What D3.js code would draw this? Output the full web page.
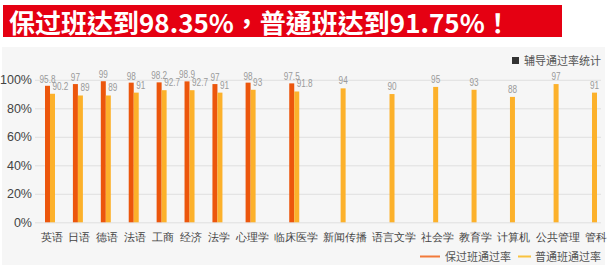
<!DOCTYPE html>
<html>
<head>
<meta charset="utf-8">
<script src="https://cdn.jsdelivr.net/npm/d3@7"></script>
<style>
  body { margin: 0; background: #fff; }
  svg { display: block; font-family: "Noto Sans CJK SC", "Liberation Sans", Arial, sans-serif; }
</style>
</head>
<body>
<svg width="608" height="269"></svg>
<script>
// chart data
var titleText = "保过班达到98.35%，普通班达到91.75%！";
var categories = ["英语", "日语", "德语", "法语", "工商", "经济", "法学", "心理学", "临床医学",
                  "新闻传播", "语言文学", "社会学", "教育学", "计算机", "公共管理", "管科"];
var baoguo = [95.8, 97, 99, 98, 98.2, 98.9, 97, 98, 97.5, null, null, null, null, null, null, null];
var putong = [90.2, 89, 89, 91, 92.7, 92.7, 91, 93, 91.8, 94, 90, 95, 93, 88, 97, 91];
var yTicks = [0, 20, 40, 60, 80, 100];
var seriesNames = ["保过班通过率", "普通班通过率"];
var topLegend = "辅导通过率统计";

var orange = "#ec560c", yellow = "#fcb12b";

var svg = d3.select("svg");

// title banner
svg.append("rect").attr("x", 3).attr("y", 5).attr("width", 559).attr("height", 32).attr("fill", "#e50012");
svg.append("text")
    .attr("x", 9).attr("y", 33)
    .attr("fill", "#fff")
    .style("font-family", "'Noto Sans CJK TC', 'Noto Sans CJK SC', sans-serif")
    .style("font-size", "26px").style("font-weight", "bold")
    .text(titleText);

// chart panel
svg.append("rect").attr("x", 2).attr("y", 47).attr("width", 603).attr("height", 218).attr("fill", "#f6f6f6");

// categories are spaced by how long their labels are
var slots = [], acc = 0;
categories.forEach(function(c, i) {
    if (i > 0) acc += (categories[i - 1].length + c.length) / 2 + 0.66;
    slots.push(acc);
});
var x = d3.scaleLinear().domain([0, acc]).range([50, 594.5]);
var y = d3.scaleLinear().domain([0, 100]).range([222.3, 79.8]);

// y axis + grid
var yAxis = svg.append("g")
    .attr("transform", "translate(35,0)")
    .call(d3.axisLeft(y).tickValues(yTicks).tickFormat(function(d) { return d + "%"; }).tickSize(-566).tickPadding(3));
yAxis.select(".domain").remove();
yAxis.selectAll("line").attr("stroke", "#e0e0e0");
yAxis.selectAll("text")
    .attr("fill", "#444")
    .style("font-family", "'Liberation Sans', Arial, sans-serif")
    .style("font-size", "12.5px");

// x axis labels
var xAxis = svg.append("g")
    .attr("transform", "translate(1,222.3)")
    .call(d3.axisBottom(x).tickValues(slots).tickFormat(function(d, i) { return categories[i]; }).tickSize(0).tickPadding(11));
xAxis.select(".domain").remove();
xAxis.selectAll("text").attr("fill", "#444").style("font-size", "11px");

var bw = 5;
var rows = categories.map(function(c, i) {
    return { c: c, s: slots[i], a: baoguo[i], b: putong[i] };
});

// bars
svg.append("g").selectAll("rect")
    .data(rows.filter(function(d) { return d.a != null; }))
    .join("rect")
    .attr("x", function(d) { return x(d.s) - bw; })
    .attr("y", function(d) { return y(d.a); })
    .attr("width", bw)
    .attr("height", function(d) { return y(0) - y(d.a); })
    .attr("fill", orange);

svg.append("g").selectAll("rect")
    .data(rows)
    .join("rect")
    .attr("x", function(d) { return d.a != null ? x(d.s) : x(d.s) - bw / 2; })
    .attr("y", function(d) { return y(d.b); })
    .attr("width", bw)
    .attr("height", function(d) { return y(0) - y(d.b); })
    .attr("fill", yellow);

// value labels (narrow font in the original)
function valueLabel(g, anchor) {
    g.append("text")
        .attr("text-anchor", anchor)
        .attr("fill", "#9a9a9a")
        .style("font-family", "'Liberation Sans', Arial, sans-serif")
        .style("font-size", "10.5px")
        .text(function(d) { return d.v; });
}

svg.append("g").selectAll("g")
    .data(rows.filter(function(d) { return d.a != null; }).map(function(d) { return { v: d.a, x: x(d.s) - bw / 2, y: y(d.a) - 3 }; }))
    .join("g")
    .attr("transform", function(d) { return "translate(" + d.x + "," + d.y + ") scale(0.78,1)"; })
    .call(valueLabel, "middle");

svg.append("g").selectAll("g")
    .data(rows.filter(function(d) { return d.a != null; }).map(function(d) { return { v: d.b, x: x(d.s) + 2.5, y: y(d.b) - 4 }; }))
    .join("g")
    .attr("transform", function(d) { return "translate(" + d.x + "," + d.y + ") scale(0.78,1)"; })
    .call(valueLabel, "start");

svg.append("g").selectAll("g")
    .data(rows.filter(function(d) { return d.a == null; }).map(function(d) { return { v: d.b, x: x(d.s), y: y(d.b) - 4 }; }))
    .join("g")
    .attr("transform", function(d) { return "translate(" + d.x + "," + d.y + ") scale(0.78,1)"; })
    .call(valueLabel, "middle");

// top legend
svg.append("rect").attr("x", 512).attr("y", 57).attr("width", 7).attr("height", 7).attr("fill", "#333");
svg.append("text").attr("x", 524).attr("y", 64.5).attr("fill", "#555").style("font-size", "11px").text(topLegend);

// bottom legend
var leg = [
    { name: seriesNames[0], color: "#f27a3a", x1: 420, x2: 440, tx: 445 },
    { name: seriesNames[1], color: "#f9c23e", x1: 518, x2: 531, tx: 535 }
];
var lg = svg.append("g").selectAll("g").data(leg).join("g");
lg.append("line")
    .attr("x1", function(d) { return d.x1; }).attr("x2", function(d) { return d.x2; })
    .attr("y1", 256.5).attr("y2", 256.5)
    .attr("stroke", function(d) { return d.color; }).attr("stroke-width", 2);
lg.append("text")
    .attr("x", function(d) { return d.tx; }).attr("y", 260.8)
    .attr("fill", "#555").style("font-size", "11px")
    .text(function(d) { return d.name; });
</script>
</body>
</html>
